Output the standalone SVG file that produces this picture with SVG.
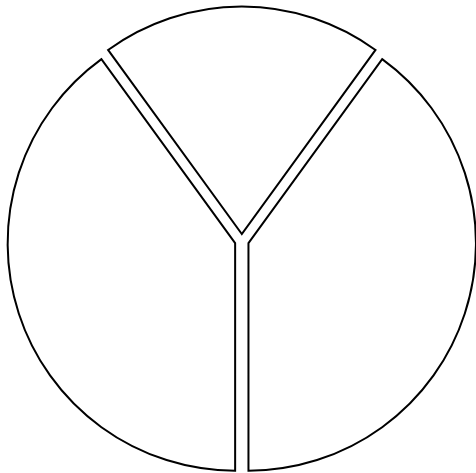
<svg xmlns="http://www.w3.org/2000/svg" width="476" height="473" viewBox="0 0 476 473">
<style>.s{fill:#fff;stroke:#000;stroke-width:2;stroke-linejoin:miter}</style>
<rect width="476" height="473" fill="#fff"/>
<g id="top"><path class="s" d="M241.8 234 L108.08 49.95 A227.5 227.5 0 0 1 375.52 49.95 Z"/></g>
<g id="left"><path class="s" d="M235.14 243.16 L235.14 470.66 A227.5 227.5 0 0 1 101.42 59.11 Z"/></g>
<g id="right"><path class="s" d="M248.46 243.16 L382.18 59.11 A227.5 227.5 0 0 1 248.46 470.66 Z"/></g>
</svg>
